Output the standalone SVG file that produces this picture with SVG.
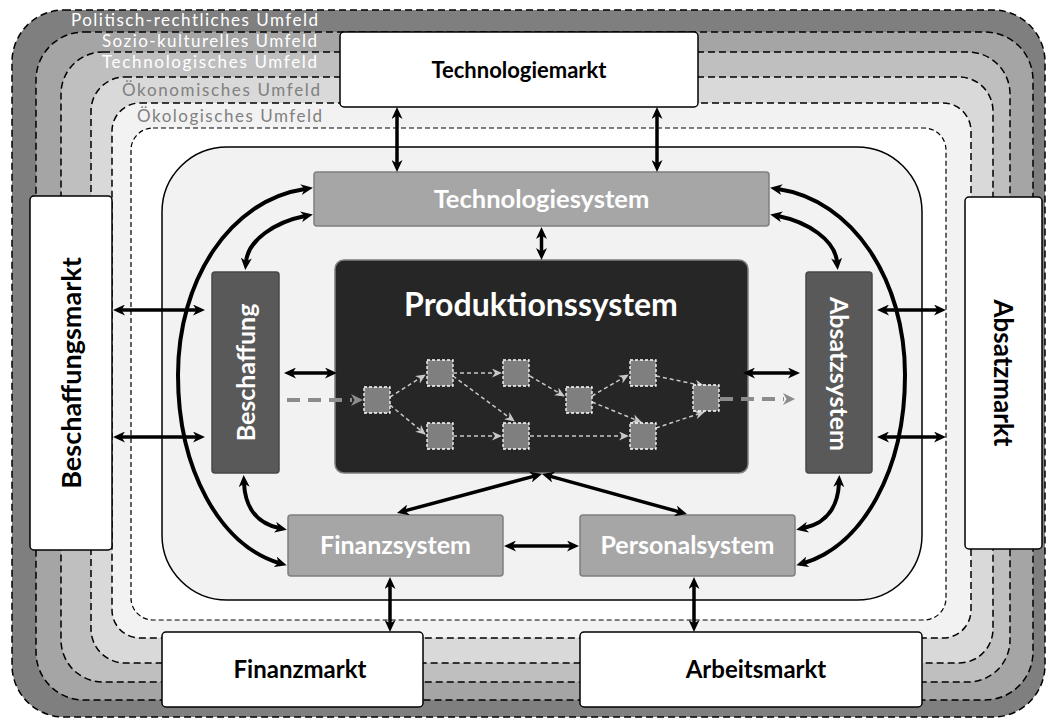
<svg xmlns="http://www.w3.org/2000/svg" width="1049" height="720" viewBox="0 0 1049 720">
<defs>
<style>
.band{stroke:#000;stroke-width:1.5;stroke-dasharray:7 4}
.mkt{fill:#fff;stroke:#000;stroke-width:1.5}
.sys{fill:#a6a6a6;stroke:#7f7f7f;stroke-width:1.5}
.dk{fill:#595959;stroke:#474747;stroke-width:1.5}
.t{font-family:Lato,'Liberation Sans',sans-serif;font-weight:bold;text-anchor:middle}
.env{font-family:Lato,'Liberation Sans',sans-serif;font-size:17px;text-anchor:end}
.con{fill:none;stroke:#000;stroke-width:3.5;marker-start:url(#ah);marker-end:url(#ah)}
.cur{stroke-width:4}
.pe{fill:none;stroke:#c8c8c8;stroke-width:1.5;stroke-dasharray:4 3;marker-end:url(#sh)}
.sq{fill:#7f7f7f;stroke:#fff;stroke-width:1.3;stroke-dasharray:3 2}
.flow{fill:none;stroke:#8c8c8c;stroke-width:4;stroke-dasharray:13 8;marker-end:url(#gh)}
</style>
<marker id="ah" markerUnits="userSpaceOnUse" markerWidth="12" markerHeight="11" refX="4" refY="5.5" orient="auto-start-reverse" viewBox="0 0 12 11"><path d="M0,0 L12,5.5 L0,11 L3.5,5.5 Z" fill="#000"/></marker>
<marker id="sh" markerUnits="userSpaceOnUse" markerWidth="10" markerHeight="9" refX="9" refY="4.5" orient="auto" viewBox="0 0 10 9"><path d="M0,0 L10,4.5 L0,9 L3,4.5 Z" fill="#c8c8c8"/></marker>
<marker id="gh" markerUnits="userSpaceOnUse" markerWidth="12" markerHeight="12" refX="1" refY="6" orient="auto" viewBox="0 0 12 12"><path d="M0,0 L12,6 L0,12 L3.5,6 Z" fill="#8c8c8c"/></marker>
</defs>

<g id="environment">
<rect class="band" x="12" y="10" width="1033" height="707" rx="52" fill="#7f7f7f"/>
<rect class="band" x="36" y="32" width="997" height="668" rx="48" fill="#a5a5a5"/>
<rect class="band" x="61" y="52" width="949" height="630" rx="42" fill="#bfbfbf"/>
<rect class="band" x="91" y="77" width="902" height="586" rx="34" fill="#d9d9d9"/>
<rect class="band" x="112" y="103" width="859" height="535" rx="28" fill="#f2f2f2"/>
<rect class="band" x="131" y="128" width="815" height="492" rx="22" fill="#ffffff" style="stroke-width:1.2;stroke-dasharray:5 3"/>
<text class="env" x="318" y="26" fill="#fff" textLength="247">Politisch-rechtliches Umfeld</text>
<text class="env" x="317" y="47" fill="#fff" textLength="215">Sozio-kulturelles Umfeld</text>
<text class="env" x="317" y="68" fill="#fff" textLength="215">Technologisches Umfeld</text>
<text class="env" x="320" y="96" fill="#808080" textLength="198">Ökonomisches Umfeld</text>
<text class="env" x="322" y="122" fill="#808080" textLength="185">Ökologisches Umfeld</text>
</g>

<g id="unternehmen">
<rect x="162" y="147" width="760" height="453" rx="65" fill="#f2f2f2" stroke="#000" stroke-width="1.5"/>
</g>

<g id="technologiemarkt">
<rect class="mkt" x="340" y="32" width="358" height="75" rx="4"/>
<text class="t" x="519" y="78" font-size="22">Technologiemarkt</text>
</g>
<g id="beschaffungsmarkt">
<rect class="mkt" x="30" y="196" width="82" height="354" rx="4"/>
<text class="t" font-size="27" transform="translate(81,373) rotate(-90)">Beschaffungsmarkt</text>
</g>
<g id="absatzmarkt">
<rect class="mkt" x="965" y="197" width="77" height="352" rx="4"/>
<text class="t" font-size="26" transform="translate(994,373) rotate(90)">Absatzmarkt</text>
</g>
<g id="finanzmarkt">
<rect class="mkt" x="162" y="632" width="261" height="75" rx="4"/>
<text class="t" x="300" y="678" font-size="24">Finanzmarkt</text>
</g>
<g id="arbeitsmarkt">
<rect class="mkt" x="580" y="632" width="342" height="75" rx="4"/>
<text class="t" x="756" y="678" font-size="24">Arbeitsmarkt</text>
</g>

<g id="technologiesystem">
<rect class="sys" x="314" y="172" width="455" height="54" rx="3"/>
<text class="t" x="541.5" y="208" font-size="25.5" fill="#fff">Technologiesystem</text>
</g>
<g id="beschaffung">
<rect class="dk" x="212" y="272" width="67" height="201" rx="3"/>
<text class="t" font-size="25" fill="#fff" transform="translate(254.5,372.5) rotate(-90)">Beschaffung</text>
</g>
<g id="absatzsystem">
<rect class="dk" x="806" y="272" width="66" height="201" rx="3"/>
<text class="t" font-size="25" fill="#fff" transform="translate(830,374) rotate(90)">Absatzsystem</text>
</g>
<g id="finanzsystem">
<rect class="sys" x="288" y="515" width="215" height="61" rx="3"/>
<text class="t" x="395.5" y="554" font-size="25" fill="#fff">Finanzsystem</text>
</g>
<g id="personalsystem">
<rect class="sys" x="580" y="515" width="215" height="61" rx="3"/>
<text class="t" x="687.5" y="554" font-size="25" fill="#fff">Personalsystem</text>
</g>

<g id="produktionssystem">
<rect x="335" y="260" width="413" height="213" rx="9" fill="#262626" stroke="#7f7f7f" stroke-width="1.5"/>
<text class="t" x="541" y="316" font-size="32" fill="#fff">Produktionssystem</text>
<g id="prozess">
<path class="pe" d="M390,397 L425,375"/>
<path class="pe" d="M390,405 L425,434"/>
<path class="pe" d="M453,373 L501,373"/>
<path class="pe" d="M453,376 L514,421"/>
<path class="pe" d="M453,436 L501,436"/>
<path class="pe" d="M530,376 L564,396"/>
<path class="pe" d="M530,436 L628,436"/>
<path class="pe" d="M592,396 L628,375"/>
<path class="pe" d="M592,402 L641,422"/>
<path class="pe" d="M656,376 L704,386"/>
<path class="pe" d="M656,428 L704,412"/>
<rect class="sq" x="364" y="387" width="26" height="26"/>
<rect class="sq" x="427" y="360" width="26" height="26"/>
<rect class="sq" x="427" y="423" width="26" height="26"/>
<rect class="sq" x="503" y="360" width="26" height="26"/>
<rect class="sq" x="503" y="423" width="26" height="26"/>
<rect class="sq" x="566" y="387" width="26" height="26"/>
<rect class="sq" x="630" y="360" width="26" height="26"/>
<rect class="sq" x="630" y="423" width="26" height="26"/>
<rect class="sq" x="693" y="385" width="26" height="26"/>
</g>
</g>

<g id="connectors">
<path class="flow" d="M287,400 L352,400"/>
<path class="flow" d="M720,399 L784,399"/>
<path class="con" d="M397,115 L397,164"/>
<path class="con" d="M657,115 L657,164"/>
<path class="con" d="M541.5,235 L541.5,252"/>
<path class="con" d="M121,310 L197,310"/>
<path class="con" d="M121,437 L197,437"/>
<path class="con" d="M885,310 L938,310"/>
<path class="con" d="M885,437 L938,437"/>
<path class="con" d="M292,373 L329,373"/>
<path class="con" d="M751,373 L792,373"/>
<path class="con" d="M534.3,476.1 L404.7,510.9"/>
<path class="con" d="M549.7,476.1 L679.3,511.9"/>
<path class="con" d="M512,546 L571,546"/>
<path class="con" d="M390,585 L390,624"/>
<path class="con" d="M694,585 L694,624"/>
<path class="con cur" d="M305,189 C230,200 178,280 178,375 C178,470 220,545 279,563"/>
<path class="con cur" d="M305,216 C275,222 248,240 246,262"/>
<path class="con cur" d="M244,483 C245,505 255,523 279,528"/>
<path class="con cur" d="M778,189 C853,200 905,280 905,375 C905,470 863,545 804,563"/>
<path class="con cur" d="M778,216 C808,222 835,240 837,262"/>
<path class="con cur" d="M839,483 C838,505 828,523 804,528"/>
</g>
</svg>
